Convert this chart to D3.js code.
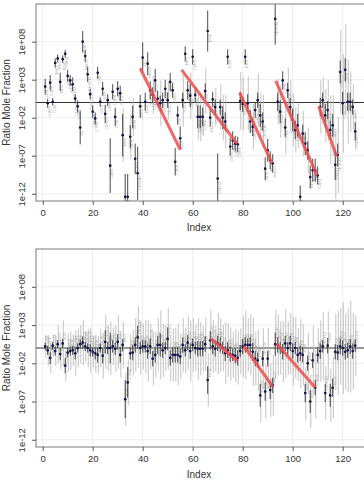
<!DOCTYPE html>
<html><head><meta charset="utf-8">
<script src="https://cdn.jsdelivr.net/npm/d3@7"></script>
<style>body{margin:0;background:#fff}svg{display:block}</style>
</head><body><svg id="c" width="364" height="480"></svg>
<script>
const indexTicks=[0,20,40,60,80,100,120];
const logTicks=[8,3,-2,-7,-12];
const tickLabels=["1e+08","1e+03","1e-02","1e-07","1e-12"];
const species=["CH4","C2H6","C3H8","CO2","N2O","H2O","NH3","SO2","C2H4","C2H2","HCN","HCHO","CH3OH","C6H6","O3","NO2","HNO3","CH3CN","C4H10","C5H12","C7H8","CS2","OCS","H2S","CH3Cl"];

const meanTop=[2.1,-0.1,2.6,0.1,5.2,5.8,2.7,5.7,6.4,3.5,
 2.9,2.4,0.5,-0.5,-3.3,8.0,6.1,3.7,1.1,-1.2,
 -2.1,3.9,0.1,1.8,-1.5,0.3,-8.3,1.4,-1.9,1.8,
 1.2,-4.3,-12.4,-12.4,-4.5,-1.9,-7.4,-9.3,-0.5,5.9,
 0.1,5.1,1.6,1.0,2.9,0.5,-0.1,0.3,1.8,0.3,
 2.7,1.6,-7.8,-1.7,-4.7,0.3,6.4,1.6,0.9,6.0,
 1.0,-1.9,-1.9,-1.9,1.5,9.4,-2.0,0.4,-0.6,-10.0,
 -0.6,-2.0,-2.5,6.0,-5.8,-5.0,-5.4,-5.5,0.2,-0.2,
 6.0,-0.1,-2.5,-3.2,-1.0,0.3,-1.7,-2.5,-8.7,-6.3,
 -7.6,-8.0,11.0,0.1,-1.2,2.9,-3.3,1.6,-0.6,-2.3,
 -3.6,-3.0,-12.4,-4.1,-5.4,-6.3,-9.8,-8.9,-8.9,-9.6,
 -0.6,0.3,-1.7,-1.0,-3.6,-3.0,-8.2,-6.9,4.0,-0.1,
 4.3,0.1,0.1,-0.6,-3.8];
const errTop=[1.0,0.6,1.0,0.5,0.6,0.5,1.2,0.5,0.5,0.8,
 0.7,0.9,0.6,0.8,2.2,1.4,0.8,1.0,0.7,0.8,
 0.8,0.8,0.6,0.9,1.2,0.8,3.6,1.0,1.2,1.0,
 1.0,2.8,3.0,3.0,1.5,1.5,2.0,3.5,1.5,2.0,
 1.2,1.5,1.2,1.0,1.5,1.0,1.0,1.0,1.2,1.0,
 1.2,1.0,1.8,1.2,1.5,1.0,1.0,1.2,1.5,1.0,
 1.0,1.5,1.5,1.2,1.0,2.7,1.2,1.0,1.0,3.3,
 1.0,1.5,1.2,1.0,1.2,1.2,1.0,1.0,1.2,1.0,
 1.0,1.2,1.5,1.2,1.0,1.0,1.5,1.2,1.5,1.5,
 1.2,1.2,3.4,1.2,1.5,1.2,1.2,1.0,1.2,1.5,
 1.2,1.5,1.5,1.2,1.5,1.2,1.5,1.5,1.5,1.2,
 1.2,1.0,1.5,1.2,1.2,1.5,2.0,1.5,1.5,1.5,
 1.5,1.2,1.2,1.0,1.2];
const rngTop=[0,0,0,0,0,0,0,0,0,0,
 0,0,0,0,0,0,0,0,0,0,
 0,0,0,0,0,0,0,0,0,0,
 0,3.5,0,0,3.0,2.5,0,0,0,0,
 0,0,0,2.5,0,0,3.0,0,0,2.5,
 0,0,0,0,0,3.5,0,0,3.0,0,
 0,3.0,3.2,2.5,3.0,0,0,0,2.5,0,
 3.0,3.0,3.5,0,0,0,0,0,3.8,3.5,
 0,3.5,0,3.0,0,3.5,3.0,3.5,0,0,
 0,0,0,3.0,3.5,0,3.5,3.0,3.5,3.5,
 3.0,3.0,0,3.0,0,3.0,0,0,0,0,
 3.5,3.0,3.5,4.0,4.5,4.0,4.5,5.0,5.5,6.5,
 6.0,5.5,4.0,3.0,2.5];

const meanBot=[0.2,-0.3,-1.3,0.3,-0.4,0.5,-0.8,0.6,-2.3,-0.6,
 -0.4,-0.3,-0.7,0,0.5,0.7,0.2,0,-0.3,-0.5,
 -0.7,-0.9,0,-1.0,0.8,0,0,0.2,-0.1,0.8,
 -0.9,0.4,-6.7,-4.5,-0.7,-0.6,0.4,1.4,0,0.2,
 0.2,-0.4,0.2,-1.4,-0.9,0.4,0.4,-0.3,0,1.2,
 -1.3,-0.9,-0.9,-0.9,-1.1,0.4,-0.3,0.7,-0.4,0.4,
 0,-0.1,-0.1,-0.1,0.5,-4.2,1.0,0.2,-0.1,0.6,
 0.4,0,-0.7,-0.3,-0.8,-0.9,-1.0,-1.3,-0.4,0.2,
 0.4,0.4,0.4,-0.5,-1.4,-1.6,-6.2,-1.4,-5.7,-1.4,
 -5.5,-4.9,0.5,0.4,0,-0.5,0.6,0,0.6,-0.4,
 0,-0.9,-0.7,-0.9,-5.9,-2.0,-7.0,-1.6,-5.2,-0.9,
 -0.4,0.2,-5.9,0.3,-6.2,-5.2,-0.5,-0.6,0.2,0,
 -0.5,-0.3,0.2,-0.4,0.3];
const errBot=[0.5,0.6,0.8,0.5,0.6,0.5,0.8,0.6,1.0,0.6,
 0.6,0.6,0.8,0.6,0.6,0.8,0.6,0.6,0.8,0.6,
 0.8,1.0,0.6,1.0,1.5,0.8,2.0,0.8,0.8,1.0,
 1.0,0.8,2.5,2.0,0.8,1.0,1.0,1.5,0.8,0.8,
 0.8,1.0,1.0,1.0,1.0,1.2,1.5,1.0,0.8,1.5,
 1.0,1.0,1.0,1.0,1.0,1.0,0.8,1.0,1.0,0.8,
 0.8,1.0,1.0,1.0,1.0,1.8,1.2,1.0,1.0,1.0,
 1.0,0.8,1.0,1.0,1.0,0.8,1.0,1.0,0.8,1.0,
 1.0,0.8,1.0,1.2,1.0,1.0,1.5,1.0,1.2,1.0,
 1.2,1.0,1.5,1.0,0.8,1.0,1.0,0.8,1.0,1.0,
 0.8,1.0,1.0,1.0,1.2,1.0,1.5,1.0,1.0,1.0,
 1.0,0.8,1.2,1.0,1.5,1.2,1.0,1.0,1.0,1.0,
 1.0,1.0,1.0,1.0,0.8];
const rngBot=[1.5,2.0,2.0,1.5,2.0,2.5,2.0,3.0,2.0,2.5,
 2.5,2.0,3.0,2.5,2.5,3.0,2.0,2.5,3.0,2.0,
 2.5,2.5,2.5,3.0,3.5,3.0,3.5,2.5,3.0,3.5,
 3.0,3.0,3.5,3.0,2.5,3.0,3.5,4.0,3.5,3.0,
 3.5,4.0,3.0,3.5,3.0,3.5,4.5,3.5,3.0,4.0,
 3.0,3.5,3.5,4.0,3.0,3.5,3.0,3.5,4.0,3.5,
 3.0,4.0,3.5,3.0,3.5,3.5,4.0,3.5,3.0,4.0,
 3.5,3.0,4.0,3.5,3.5,3.0,3.5,3.5,3.0,4.0,
 4.5,3.5,4.0,4.5,3.5,4.0,3.5,4.0,3.5,4.0,
 3.5,4.0,4.5,4.0,3.5,4.0,4.5,3.5,4.0,4.5,
 4.0,3.5,4.5,4.0,3.5,4.0,3.5,4.5,4.0,3.5,
 4.0,4.5,3.5,4.5,3.5,4.0,5.0,5.5,5.0,6.0,
 5.0,5.5,6.0,5.0,4.0];

// trend segments: [index start, log10 start, index end, log10 end]
const trendTop=[[39,4.5,55,-6.2],[55.6,4.3,77.7,-5.4],[78.8,1.3,91.7,-8.0],[93.2,2.85,109.7,-9.6],[110.4,-0.5,117.6,-7.1]];
const trendBot=[[67.2,1.27,77.9,-1.7],[80.5,0.26,92.1,-5.07],[93.5,0.6,109.1,-5.2]];

const svg=d3.select("#c");
const FONT="'Liberation Sans', Arial, Helvetica, sans-serif";
const x=d3.scaleLinear().domain([0,120]).range([42.7,342.7]);
const L=36, R=365;

function panel(id,top,bottom,mean,err,rng,trends,labelAbove,titleY){
  const y=d3.scaleLinear().domain([-12.95,12.95]).range([bottom,top]);
  const g=svg.append("g");
  g.append("clipPath").attr("id","clip"+id).append("rect")
    .attr("x",L).attr("y",top).attr("width",R-L).attr("height",bottom-top);
  g.selectAll(".vg").data(indexTicks).join("line")
    .attr("x1",d=>x(d)).attr("x2",d=>x(d)).attr("y1",top).attr("y2",bottom)
    .attr("stroke","#ededed").attr("stroke-width",1);
  g.selectAll(".hg").data(logTicks).join("line")
    .attr("x1",L).attr("x2",R).attr("y1",d=>y(d)).attr("y2",d=>y(d))
    .attr("stroke","#ededed").attr("stroke-width",1);
  const data=mean.map((m,i)=>({i:i+1,m,e:err[i],r:rng[i],lab:species[i%species.length]}));
  const pg=g.append("g").attr("clip-path","url(#clip"+id+")");
  pg.append("line").attr("x1",L).attr("x2",R).attr("y1",y(0)).attr("y2",y(0))
    .attr("stroke","#333").attr("stroke-width",1);
  pg.selectAll(".rg").data(data.filter(d=>d.r>0)).join("line")
    .attr("x1",d=>x(d.i)+0.6).attr("x2",d=>x(d.i)+0.6)
    .attr("y1",d=>y(d.m+d.r)).attr("y2",d=>y(d.m-d.r))
    .attr("stroke","#b4b4b4").attr("stroke-width",0.8);
  pg.selectAll(".lb").data(data).join("text")
    .attr("transform",d=>`translate(${x(d.i)+1.6},${labelAbove? y(d.m)-3 : y(d.m)+3}) rotate(-90)`)
    .attr("text-anchor",labelAbove?"start":"end")
    .attr("dy","0.35em")
    .attr("font-family",FONT).attr("font-size",4).attr("fill","#a8a8a8")
    .text(d=>d.lab);
  pg.selectAll(".eb").data(data).join("line")
    .attr("x1",d=>x(d.i)).attr("x2",d=>x(d.i))
    .attr("y1",d=>y(d.m+d.e)).attr("y2",d=>y(d.m-d.e))
    .attr("stroke","#1a1a1a").attr("stroke-width",0.8);
  pg.selectAll(".pt").data(data).join("circle")
    .attr("cx",d=>x(d.i)).attr("cy",d=>y(d.m)).attr("r",1.35)
    .attr("fill","#141450");
  pg.selectAll(".tr").data(trends).join("line")
    .attr("x1",d=>x(d[0])).attr("y1",d=>y(d[1])).attr("x2",d=>x(d[2])).attr("y2",d=>y(d[3]))
    .attr("stroke","#ee4b4b").attr("stroke-opacity",0.85).attr("stroke-width",3);
  g.append("rect").attr("x",L).attr("y",top).attr("width",R-L).attr("height",bottom-top)
    .attr("fill","none").attr("stroke","#7a7a7a").attr("stroke-width",1);
  const ay=g.append("g").attr("transform",`translate(${L},0)`)
    .call(d3.axisLeft(y).tickValues(logTicks).tickFormat((d,i)=>tickLabels[i]).tickSize(4).tickSizeOuter(0));
  ay.select(".domain").remove();
  ay.selectAll("line").attr("stroke","#555");
  ay.selectAll("text").attr("transform","rotate(-90)").attr("x",0).attr("y",-11).attr("dy",0)
    .attr("text-anchor","middle").attr("font-family",FONT).attr("font-size",9.5).attr("fill","#333");
  const ax=g.append("g").attr("transform",`translate(0,${bottom})`)
    .call(d3.axisBottom(x).tickValues(indexTicks).tickFormat(d3.format("d")).tickSize(4).tickPadding(4).tickSizeOuter(0));
  ax.select(".domain").remove();
  ax.selectAll("line").attr("stroke","#555");
  ax.selectAll("text").attr("font-family",FONT).attr("font-size",9.5).attr("fill","#333");
  g.append("text").attr("x",(L+362)/2).attr("y",titleY).attr("text-anchor","middle")
    .attr("font-family",FONT).attr("font-size",10).attr("fill","#333").text("Index");
  g.append("text").attr("transform",`translate(10,${(top+bottom)/2}) rotate(-90)`)
    .attr("text-anchor","middle").attr("font-family",FONT).attr("font-size",10).attr("fill","#333")
    .text("Ratio Mole Fraction");
}
panel("a",4,201,meanTop,errTop,rngTop,trendTop,false,231);
panel("b",249,447,meanBot,errBot,rngBot,trendBot,true,478);
</script></body></html>
